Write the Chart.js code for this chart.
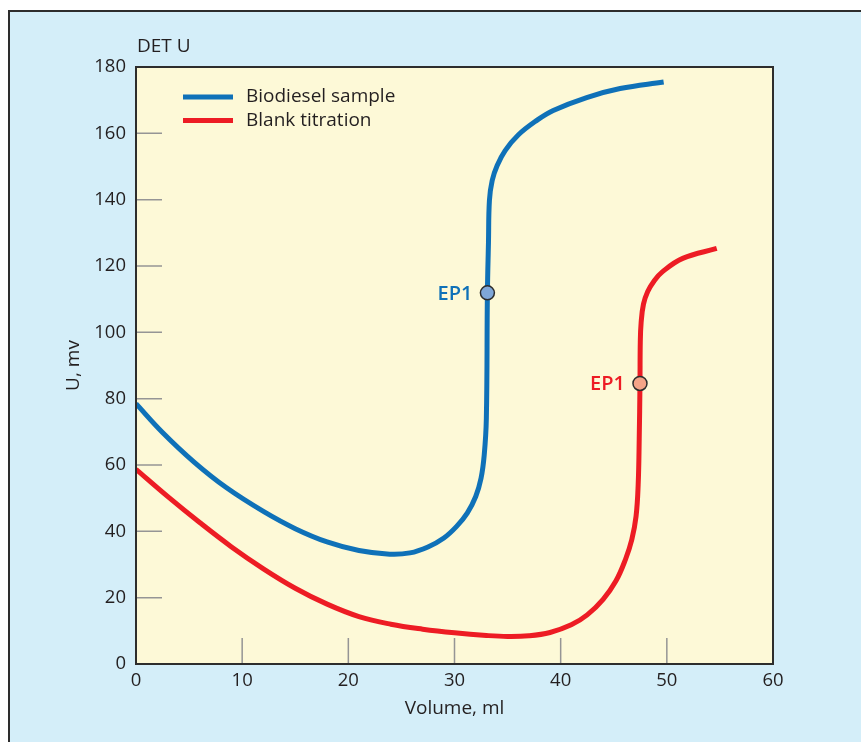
<!DOCTYPE html>
<html>
<head>
<meta charset="utf-8">
<script src="https://cdn.jsdelivr.net/npm/chart.js@4.4.1/dist/chart.umd.min.js"></script>
<style>
  html, body { margin: 0; padding: 0; background: #fff; overflow: hidden; }
  #panel { position: absolute; left: 8px; top: 10px; width: 900px; height: 800px;
           background: #d4eef9; border-top: 2px solid #2d2d2d; border-left: 2px solid #2d2d2d; }
  #wrap { position: absolute; left: 0; top: 0; width: 861px; height: 742px; }
</style>
</head>
<body>
<div id="panel"></div>
<div id="wrap"><canvas id="chart"></canvas></div>
<script>
// Titration curves
const volBiodiesel = [0, 2.5, 5.5, 8.5, 12, 15, 18, 21, 23.9, 25.8, 27.5, 29, 30.2, 31.2, 32, 32.5, 32.8, 33.0,
                      33.1, 33.2, 33.29, 33.55, 34.02, 34.77, 36.0, 37.75, 39.3, 42.45, 45.6, 49.7];
const uBiodiesel   = [78.5, 69.8, 60.8, 53.2, 46, 40.8, 36.8, 34.2, 33.1, 33.5, 35.3, 38, 41.5, 45.5, 50.5, 56, 63, 74,
                      111.9, 127, 139.8, 145.8, 150.3, 154.8, 159.5, 163.9, 166.9, 170.8, 173.5, 175.5];

const volBlank = [0, 3, 6, 9, 12, 15, 18, 21, 24, 27, 30, 33, 35, 37, 39, 41, 42.5, 44, 45.2, 46.1, 46.7, 47.1, 47.3, 47.4,
                  47.47, 47.5, 47.58, 47.8, 48.2, 48.8, 49.6, 51.5, 54.7];
const uBlank   = [58.7, 50.45, 42.65, 35.3, 28.7, 22.85, 18.05, 14.3, 12.0, 10.5, 9.4, 8.6, 8.3, 8.5, 9.5, 11.8, 14.8, 19.5, 25, 31.5, 37.5, 44.5, 54, 68,
                  84.6, 97, 103, 108.5, 112.3, 115.5, 118.3, 122.3, 125.3];

// end points
const ep1Biodiesel = { x: 33.1, y: 111.9 };
const ep1Blank = { x: 47.47, y: 84.6 };

const seriesNames = ['Biodiesel sample', 'Blank titration'];
const xTickValues = [10, 20, 30, 40, 50];
const yTickValues = [20, 40, 60, 80, 100, 120, 140, 160];

const BLUE = '#0f71b8';
const RED = '#ed1c24';
const TEXT = '#231f20';
const FONT = '"Open Sans", "Noto Sans", sans-serif';

const toPoints = (xs, ys) => xs.map((x, i) => ({ x, y: ys[i] }));

// Plot background, frame, inward ticks, legend and labels
const decor = {
  id: 'decor',
  beforeDatasetsDraw(chart) {
    const { ctx, chartArea: a, scales } = chart;
    ctx.save();
    ctx.fillStyle = '#fdf9d7';
    ctx.fillRect(a.left, a.top, a.right - a.left, a.bottom - a.top);
    ctx.strokeStyle = '#959595';
    ctx.lineWidth = 1.5;
    ctx.beginPath();
    xTickValues.forEach(v => {
      const px = scales.x.getPixelForValue(v);
      ctx.moveTo(px, a.bottom);
      ctx.lineTo(px, a.bottom - 26);
    });
    yTickValues.forEach(v => {
      const py = scales.y.getPixelForValue(v);
      ctx.moveTo(a.left, py);
      ctx.lineTo(a.left + 26, py);
    });
    ctx.stroke();
    ctx.restore();
  },
  afterDatasetsDraw(chart) {
    const { ctx, chartArea: a, scales } = chart;
    ctx.save();
    ctx.strokeStyle = '#2d2d2d';
    ctx.lineWidth = 2;
    ctx.strokeRect(a.left, a.top, a.right - a.left, a.bottom - a.top);

    // legend
    ctx.lineWidth = 5;
    ctx.font = `19px ${FONT}`;
    ctx.textBaseline = 'middle';
    [[BLUE, 97], [RED, 120.5]].forEach(([c, y], i) => {
      ctx.strokeStyle = c;
      ctx.beginPath();
      ctx.moveTo(183, y);
      ctx.lineTo(233, y);
      ctx.stroke();
      ctx.fillStyle = TEXT;
      ctx.fillText(seriesNames[i], 246, y);
    });

    // header
    ctx.fillStyle = TEXT;
    ctx.fillText('DET U', 137, 47);

    // EP1 labels
    ctx.font = `600 20px ${FONT}`;
    ctx.textAlign = 'right';
    [[ep1Biodiesel, BLUE], [ep1Blank, RED]].forEach(([p, c]) => {
      ctx.fillStyle = c;
      ctx.fillText('EP1', scales.x.getPixelForValue(p.x) - 15, scales.y.getPixelForValue(p.y) + 1);
    });
    ctx.restore();
  }
};

const ctx = document.getElementById('chart').getContext('2d');
new Chart(ctx, {
  type: 'line',
  data: {
    datasets: [
      { label: seriesNames[0], data: toPoints(volBiodiesel, uBiodiesel), borderColor: BLUE, borderWidth: 5,
        pointRadius: 0, tension: 0.4, fill: false, order: 2 },
      { label: seriesNames[1], data: toPoints(volBlank, uBlank), borderColor: RED, borderWidth: 5,
        pointRadius: 0, tension: 0.4, fill: false, order: 2 },
      { label: 'EP1', data: [ep1Biodiesel], showLine: false, pointRadius: 7, pointBackgroundColor: '#7fa7d8',
        pointBorderColor: '#2d2d2d', pointBorderWidth: 1.5, order: 1 },
      { label: 'EP1', data: [ep1Blank], showLine: false, pointRadius: 7, pointBackgroundColor: '#f4a487',
        pointBorderColor: '#2d2d2d', pointBorderWidth: 1.5, order: 1 }
    ]
  },
  options: {
    responsive: true,
    maintainAspectRatio: false,
    animation: false,
    layout: { padding: { top: 67, right: 88, left: 0, bottom: 0 } },
    plugins: { legend: { display: false }, tooltip: { enabled: false } },
    scales: {
      x: {
        type: 'linear', min: 0, max: 60,
        grid: { display: false, drawTicks: false },
        border: { display: false },
        ticks: { stepSize: 10, padding: 6, color: TEXT, font: { family: FONT, size: 18.5 } },
        title: { display: true, text: 'Volume, ml', color: TEXT, font: { family: FONT, size: 19 },
                 padding: { top: 0, bottom: 22 } },
        afterFit(s) { s.height = 78; }
      },
      y: {
        type: 'linear', min: 0, max: 180,
        grid: { display: false, drawTicks: false },
        border: { display: false },
        ticks: { stepSize: 20, padding: 10, color: TEXT, font: { family: FONT, size: 18.5 } },
        title: { display: true, text: 'U, mv', color: TEXT, font: { family: FONT, size: 19 },
                 padding: { top: 62, bottom: 0 } },
        afterFit(s) { s.width = 136; }
      }
    }
  },
  plugins: [decor]
});
</script>
</body>
</html>
